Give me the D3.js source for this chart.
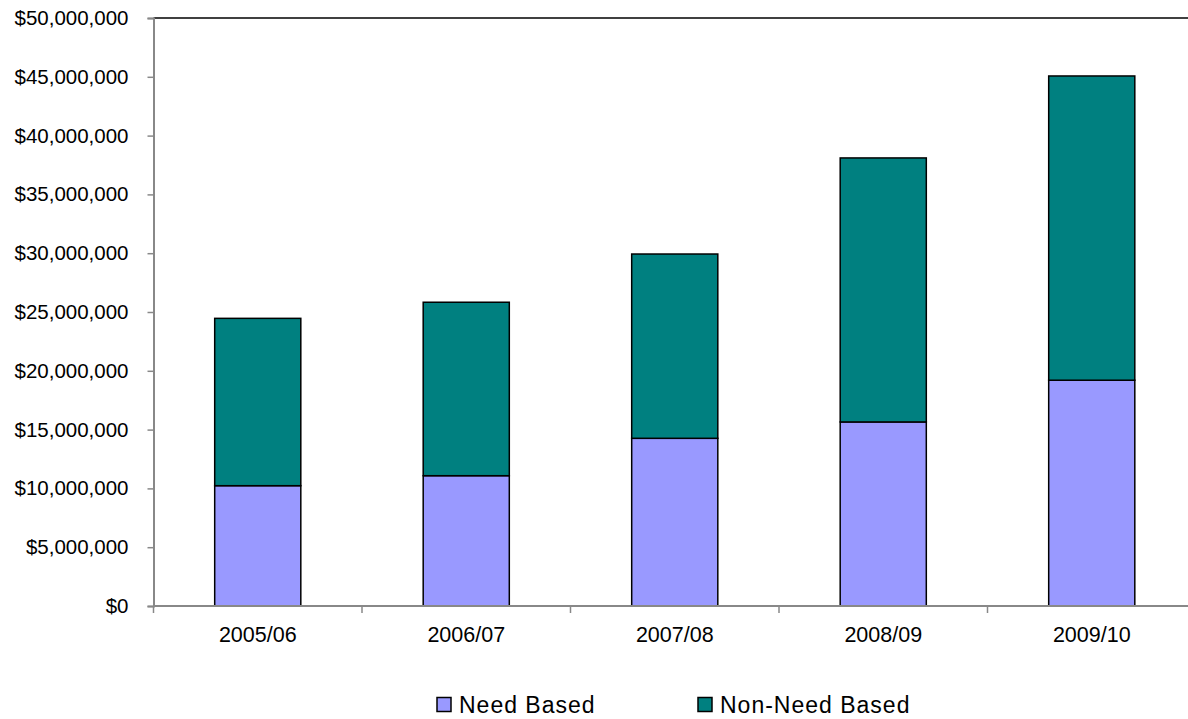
<!DOCTYPE html>
<html><head><meta charset="utf-8">
<script src="https://cdn.jsdelivr.net/npm/d3@7/dist/d3.min.js"></script>
<style>body{margin:0;background:#fff}svg{display:block}text{font-family:"Liberation Sans",Arial,sans-serif;fill:#000}</style>
</head><body><svg id="c" width="1188" height="719"></svg>
<script>
const categories = ["2005/06","2006/07","2007/08","2008/09","2009/10"];
const needBased = [10230000, 11080000, 14260000, 15650000, 19200000];
const nonNeedBased = [14230000, 14750000, 15670000, 22450000, 25870000];
const seriesNames = ["Need Based","Non-Need Based"];
const seriesColors = ["#9999FF","#008080"];
const yTicks = [0,5e6,10e6,15e6,20e6,25e6,30e6,35e6,40e6,45e6,50e6];

const svg = d3.select("#c");
const L = 153.5, R = 1196, T = 18, B = 606;
const x = d3.scaleBand().domain(categories).range([L, R]).paddingInner(0).paddingOuter(0);
const y = d3.scaleLinear().domain([0, 50e6]).range([B, T]);
const bw = x.bandwidth() * 0.413;

const rows = categories.map((c,i)=>({cat:c, need:needBased[i], non:nonNeedBased[i]}));
const stack = d3.stack().keys(["need","non"])(rows);

// top border
svg.append("line").attr("x1",L).attr("x2",R).attr("y1",T).attr("y2",T).attr("stroke","#000").attr("stroke-width",1.5);

// y axis
const ya = svg.append("g").attr("transform",`translate(${L},0)`)
  .call(d3.axisLeft(y).tickValues(yTicks).tickSize(6).tickPadding(19).tickFormat(d=>"$"+d3.format(",")(d)));
ya.select(".domain").attr("stroke","#888").attr("stroke-width",2);
ya.selectAll(".tick line").attr("stroke","#888").attr("stroke-width",1.5);
ya.selectAll("text").attr("font-size","20.5px").attr("font-family","Liberation Sans, Arial, sans-serif").attr("fill","#000");

// bars
stack.forEach((s,si)=>{
  svg.append("g").selectAll("rect").data(s).join("rect")
    .attr("x", d=>x(d.data.cat)+x.bandwidth()/2-bw/2)
    .attr("width", bw)
    .attr("y", d=>y(d[1]))
    .attr("height", d=>y(d[0])-y(d[1]))
    .attr("fill", seriesColors[si])
    .attr("stroke","#000").attr("stroke-width",1.5);
});

// x axis
const xa = svg.append("g").attr("transform",`translate(0,${B})`)
  .call(d3.axisBottom(x).tickSize(0).tickPadding(18));
xa.select(".domain").remove();
svg.append("line").attr("x1",L).attr("x2",R).attr("y1",B).attr("y2",B).attr("stroke","#888").attr("stroke-width",2);
const bounds = categories.map(c=>x(c)).concat([R]);
svg.append("g").selectAll("line").data(bounds).join("line")
  .attr("x1",d=>d).attr("x2",d=>d).attr("y1",B).attr("y2",B+7).attr("stroke","#888").attr("stroke-width",1.5);
xa.selectAll("text").attr("font-size","21.5px").attr("font-family","Liberation Sans, Arial, sans-serif").attr("fill","#000").attr("dy","0.85em");

// legend
const lg = svg.append("g");
const lx = [437, 698];
seriesNames.forEach((n,i)=>{
  lg.append("rect").attr("x",lx[i]).attr("y",697.5).attr("width",14).attr("height",14)
    .attr("fill",seriesColors[i]).attr("stroke","#000").attr("stroke-width",1.5);
  lg.append("text").attr("x",lx[i]+22).attr("y",712.5).attr("font-size","23px").attr("letter-spacing","1px").text(n);
});
</script></body></html>
